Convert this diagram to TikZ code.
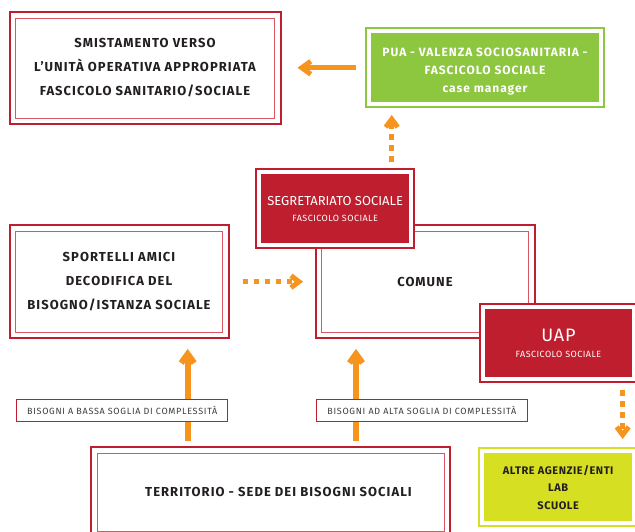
\documentclass[tikz,border=0pt]{standalone}
\usepackage{fontspec}
\setmainfont{Fira Sans}
\newfontfamily\widesans[LetterSpace=8]{Fira Sans}
\newfontfamily\midsans[LetterSpace=5]{Fira Sans}
\usetikzlibrary{arrows.meta}

\definecolor{crimson}{HTML}{BE1E2D}
\definecolor{crimsonlight}{HTML}{D95662}
\definecolor{flow}{HTML}{F7941D}
\definecolor{leaf}{HTML}{8DC63F}
\definecolor{lime}{HTML}{D7DF23}
\definecolor{ink}{HTML}{231F20}
\definecolor{graytext}{HTML}{3C3C3C}

\begin{document}
\begin{tikzpicture}[x=1pt,y=-1pt,
  every node/.style={outer sep=0pt, inner sep=0pt},
  framebox/.style={draw=crimson, line width=2pt, fill=white, text=ink,
    font=\widesans\bfseries\fontsize{13}{24}\selectfont, align=center},
  filledbox/.style={draw=#1, fill=#1, line width=2pt, double=white,
    double distance=4pt, align=center},
  innerframe/.style={draw=crimsonlight, line width=0.9pt},
  tagbox/.style={draw=crimson, line width=1pt, fill=white, text=graytext,
    font=\widesans\fontsize{9}{10}\selectfont, minimum width=211pt, minimum height=22pt},
  thrust/.style={draw=flow, line width=6pt, -{Straight Barb[length=9pt,width=13pt]}},
  trail/.style={draw=flow, line width=5pt, dash pattern=on 5.5pt off 5.5pt,
    -{Straight Barb[length=8pt,width=12pt]}},
]
\useasboundingbox (0,0) rectangle (635,532);

% --- framed white boxes -------------------------------------------------
\node[framebox, minimum width=271pt, minimum height=112pt] (smi) at (145,68)
  {SMISTAMENTO VERSO\\L’UNITÀ OPERATIVA APPROPRIATA\\FASCICOLO SANITARIO/SOCIALE};
\draw[innerframe] ([xshift=6pt,yshift=-6pt]smi.north west) rectangle ([xshift=-6pt,yshift=6pt]smi.south east);

\node[framebox, minimum width=219pt, minimum height=113pt] (sport) at (119,281.7)
  {SPORTELLI AMICI\\DECODIFICA DEL\\BISOGNO/ISTANZA SOCIALE};
\draw[innerframe] ([xshift=6pt,yshift=-6pt]sport.north west) rectangle ([xshift=-6pt,yshift=6pt]sport.south east);

\node[framebox, minimum width=219pt, minimum height=113pt] (comune) at (425,281.7) {COMUNE};
\draw[innerframe] ([xshift=6pt,yshift=-6pt]comune.north west) rectangle ([xshift=-6pt,yshift=6pt]comune.south east);

\node[framebox, minimum width=359pt, minimum height=90pt] (terr) at (270.5,492.2)
  {\hspace*{16pt}TERRITORIO - SEDE DEI BISOGNI SOCIALI};
\draw[innerframe] ([xshift=6pt,yshift=-6pt]terr.north west) rectangle ([xshift=-6pt,yshift=6pt]terr.south east);

% --- filled boxes ---------------------------------------------------------
\node[filledbox=crimson, minimum width=151.5pt, minimum height=72.5pt, text=white,
  font=\midsans\fontsize{9}{16}\selectfont] (seg) at (335.2,208.7)
  {{\rmfamily\fontsize{13}{14}\selectfont SEGRETARIATO SOCIALE}\\FASCICOLO SOCIALE};

\node[filledbox=crimson, minimum width=151pt, minimum height=72pt, text=white,
  font=\midsans\fontsize{9}{16}\selectfont] (uap) at (558.5,343)
  {{\fontsize{18}{18}\selectfont UAP}\\FASCICOLO SOCIALE};

\node[filledbox=leaf, minimum width=232pt, minimum height=72.5pt] (pua) at (485,67.75) {};
\node[text=white, align=center, font=\widesans\bfseries\fontsize{12}{18}\selectfont]
  (puatext) at ([yshift=-4pt]pua.center)
  {PUA - VALENZA SOCIOSANITARIA -\\FASCICOLO SOCIALE\\case manager};

\node[filledbox=lime, minimum width=152.5pt, minimum height=72.3pt, text=ink,
  font=\midsans\bfseries\fontsize{11}{17.5}\selectfont] (altre) at (558.2,487.2)
  {ALTRE AGENZIE/ENTI\\LAB\\SCUOLE};

% --- connectors -----------------------------------------------------------
\coordinate (lowpath) at (187.7,0);
\coordinate (highpath) at (356,0);
\coordinate (puapath) at (391.7,0);
\coordinate (uappath) at (622.7,0);

\draw[thrust, shorten <=6pt, shorten >=10.7pt] (terr.north -| lowpath) -- (sport.south -| lowpath);
\draw[thrust, shorten <=6pt, shorten >=10.7pt] (terr.north -| highpath) -- (comune.south -| highpath);
\draw[thrust, line width=5pt, shorten <=13pt, shorten >=17pt] (pua.west) -- (smi.east |- pua.west);

\draw[trail, shorten <=10.5pt, shorten >=11pt] (seg.north -| puapath) -- (pua.south -| puapath);
\draw[trail, shorten <=14pt, shorten >=12.4pt] (sport.east) -- (comune.west);
\draw[trail, shorten <=11pt, shorten >=12pt] (uap.south -| uappath) -- (altre.north -| uappath);

% --- labels on the upward arrows -----------------------------------------
\node[tagbox] (lowtag) at (122.2,410) {BISOGNI A BASSA SOGLIA DI COMPLESSITÀ};
\node[tagbox] (hightag) at (421.8,410) {BISOGNI AD ALTA SOGLIA DI COMPLESSITÀ};

\end{tikzpicture}
\end{document}
